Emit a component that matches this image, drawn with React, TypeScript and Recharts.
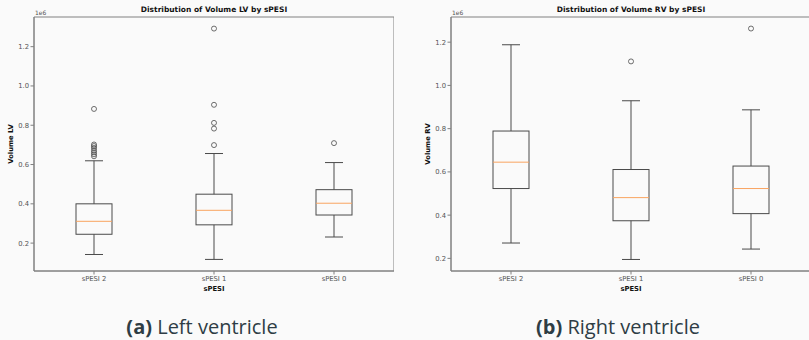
import { ComposedChart, Bar, XAxis, YAxis, ReferenceArea } from 'recharts'

// values in units of 1e6 (matplotlib offset label)
const categories = ['sPESI 2', 'sPESI 1', 'sPESI 0']

const lvMin = [0.142, 0.117, 0.231]
const lvQ1 = [0.245, 0.293, 0.343]
const lvMedian = [0.311, 0.367, 0.403]
const lvQ3 = [0.4, 0.449, 0.472]
const lvMax = [0.619, 0.656, 0.61]
const lvOutliers = [
  [0.642, 0.652, 0.662, 0.672, 0.684, 0.694, 0.702, 0.883],
  [0.699, 0.783, 0.812, 0.904, 1.292],
  [0.709],
]

const rvMin = [0.271, 0.195, 0.243]
const rvQ1 = [0.523, 0.374, 0.407]
const rvMedian = [0.645, 0.481, 0.523]
const rvQ3 = [0.789, 0.611, 0.627]
const rvMax = [1.188, 0.929, 0.887]
const rvOutliers = [[], [1.111], [1.263]]

const yTicks = [0.2, 0.4, 0.6, 0.8, 1.0, 1.2]

const FONT = '"DejaVu Sans", sans-serif'
const LINE = '#4a4a4a'
const FRAME = '#808080'
const TEXT = '#555'
const MEDIAN = '#f9a460'

function buildRows(min: number[], q1: number[], med: number[], q3: number[], max: number[], out: number[][]) {
  return categories.map((name, i) => ({
    name,
    min: min[i],
    q1: q1[i],
    median: med[i],
    q3: q3[i],
    max: max[i],
    outliers: out[i],
  }))
}

const lvData = buildRows(lvMin, lvQ1, lvMedian, lvQ3, lvMax, lvOutliers)
const rvData = buildRows(rvMin, rvQ1, rvMedian, rvQ3, rvMax, rvOutliers)

// draws whiskers, box, median and fliers from the bar's [min, max] pixel span
function BoxShape(props: any) {
  const { x, y, width, height } = props
  const d = props.payload ?? props
  const top = Math.min(y, y + height)
  const bottom = Math.max(y, y + height)
  const toPx = (v: number) => bottom - ((v - d.min) / (d.max - d.min)) * (bottom - top)
  const cx = x + width / 2
  const cap = width / 4
  return (
    <g>
      <line x1={cx} x2={cx} y1={toPx(d.min)} y2={toPx(d.q1)} stroke={LINE} strokeWidth={1} />
      <line x1={cx} x2={cx} y1={toPx(d.q3)} y2={toPx(d.max)} stroke={LINE} strokeWidth={1} />
      <line x1={cx - cap} x2={cx + cap} y1={toPx(d.min)} y2={toPx(d.min)} stroke={LINE} strokeWidth={1} />
      <line x1={cx - cap} x2={cx + cap} y1={toPx(d.max)} y2={toPx(d.max)} stroke={LINE} strokeWidth={1} />
      <rect
        x={x}
        y={toPx(d.q3)}
        width={width}
        height={toPx(d.q1) - toPx(d.q3)}
        fill="none"
        stroke={LINE}
        strokeWidth={1}
      />
      <line x1={x} x2={x + width} y1={toPx(d.median)} y2={toPx(d.median)} stroke={MEDIAN} strokeWidth={1} />
      {d.outliers.map((v: number, i: number) => (
        <circle key={i} cx={cx} cy={toPx(v)} r={2.5} fill="none" stroke={LINE} strokeWidth={0.8} />
      ))}
    </g>
  )
}

interface BoxChartProps {
  left: number
  width: number
  axisWidth: number
  title: string
  yLabel: string
  data: ReturnType<typeof buildRows>
  domain: [number, number]
}

function BoxChart({ left, width, axisWidth, title, yLabel, data, domain }: BoxChartProps) {
  const plotLeft = axisWidth
  const plotCenter = plotLeft + 180
  return (
    <div style={{ position: 'absolute', left, top: 0, width, height: 300 }}>
      <ComposedChart width={width} height={300} data={data} margin={{ top: 17, right: 0, bottom: 0, left: 0 }}>
        <XAxis
          dataKey="name"
          height={29}
          tick={{ fill: TEXT, fontSize: 6.8, fontFamily: FONT }}
          tickSize={3.5}
          tickMargin={1.5}
          tickLine={{ stroke: FRAME }}
          axisLine={{ stroke: FRAME }}
        />
        <YAxis
          type="number"
          domain={domain}
          ticks={yTicks}
          allowDataOverflow
          width={axisWidth}
          tickFormatter={(v: number) => v.toFixed(1)}
          tick={{ fill: TEXT, fontSize: 6.8, fontFamily: FONT }}
          tickSize={3.5}
          tickMargin={1.5}
          tickLine={{ stroke: FRAME }}
          axisLine={{ stroke: FRAME }}
        />
        {/* plot frame */}
        <ReferenceArea y1={domain[0]} y2={domain[1]} fill="none" stroke={FRAME} strokeWidth={1} ifOverflow="visible" />
        <Bar
          dataKey={(d: any) => [d.min, d.max]}
          barSize={36}
          shape={BoxShape}
          isAnimationActive={false}
        />
      </ComposedChart>
      <div
        style={{
          position: 'absolute',
          left: plotLeft,
          width: 360,
          top: 4,
          textAlign: 'center',
          fontFamily: FONT,
          fontWeight: 'bold',
          fontSize: 7.5,
          lineHeight: '12px',
          color: '#111',
        }}
      >
        {title}
      </div>
      <div
        style={{
          position: 'absolute',
          left: plotLeft + 1,
          top: 9,
          fontFamily: FONT,
          fontSize: 6,
          lineHeight: '8px',
          color: TEXT,
        }}
      >
        1e6
      </div>
      <div
        style={{
          position: 'absolute',
          left: plotLeft - 23 - 50,
          top: 144 - 5,
          width: 100,
          height: 10,
          lineHeight: '10px',
          textAlign: 'center',
          transform: 'rotate(-90deg)',
          fontFamily: FONT,
          fontWeight: 'bold',
          fontSize: 6.8,
          color: '#111',
        }}
      >
        {yLabel}
      </div>
      <div
        style={{
          position: 'absolute',
          left: plotCenter - 50,
          width: 100,
          top: 284,
          lineHeight: '10px',
          textAlign: 'center',
          fontFamily: FONT,
          fontWeight: 'bold',
          fontSize: 6.8,
          color: '#111',
        }}
      >
        sPESI
      </div>
    </div>
  )
}

const captionStyle: React.CSSProperties = {
  position: 'absolute',
  top: 317,
  width: 300,
  textAlign: 'center',
  fontFamily: '"Open Sans", sans-serif',
  fontSize: 20,
  lineHeight: '20px',
  color: '#2e3d45',
  whiteSpace: 'nowrap',
}

export default function App() {
  return (
    <div
      style={{
        position: 'absolute',
        left: 0,
        top: 0,
        width: 809,
        height: 340,
        overflow: 'hidden',
        background: '#fafafa',
      }}
    >
      <BoxChart
        left={0}
        width={394}
        axisWidth={34}
        title="Distribution of Volume LV by sPESI"
        yLabel="Volume LV"
        data={lvData}
        domain={[0.058, 1.351]}
      />
      <BoxChart
        left={400}
        width={411}
        axisWidth={51}
        title="Distribution of Volume RV by sPESI"
        yLabel="Volume RV"
        data={rvData}
        domain={[0.1416, 1.3164]}
      />
      <div style={{ ...captionStyle, left: 202 - 150 }}>
        <b style={{ fontWeight: 700 }}>(a)</b> Left ventricle
      </div>
      <div style={{ ...captionStyle, left: 618 - 150 }}>
        <b style={{ fontWeight: 700 }}>(b)</b> Right ventricle
      </div>
    </div>
  )
}
